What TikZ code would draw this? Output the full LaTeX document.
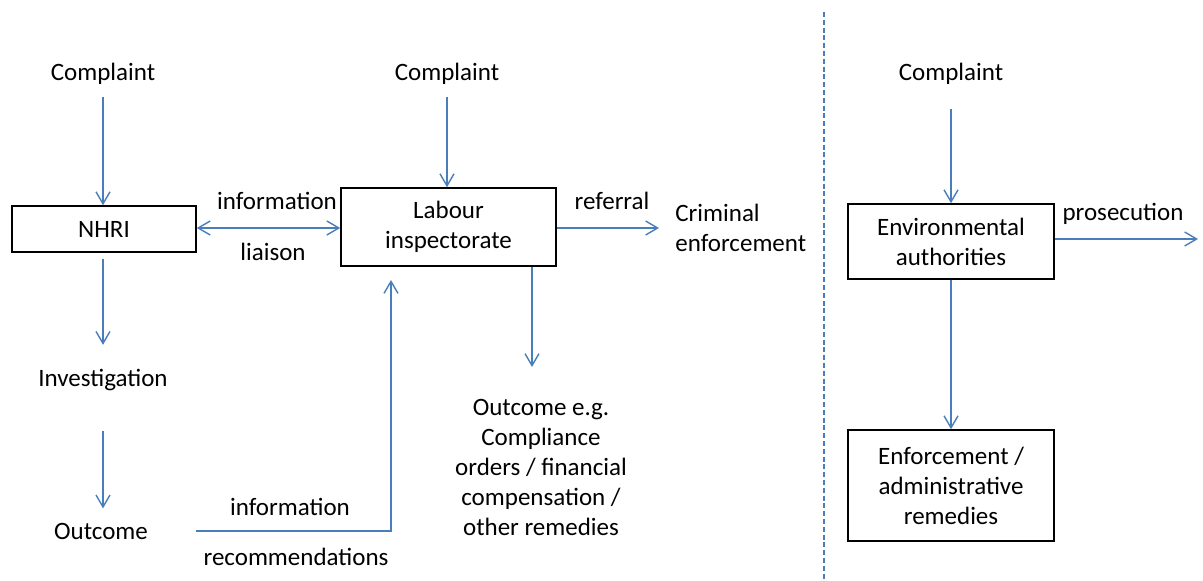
\documentclass[tikz,border=0pt]{standalone}
\usepackage{fontspec}
\setmainfont{Carlito}
\usetikzlibrary{arrows.meta}
\definecolor{flowblue}{RGB}{74,126,187}

\begin{document}
\begin{tikzpicture}[x=0.5pt,y=-0.5pt,
    every node/.style={font=\fontsize{12.5}{15}\selectfont, inner sep=0pt, align=center},
    box/.style={draw=black, line width=0.8pt},
    flow/.style={draw=flowblue, line width=0.7pt, -{Straight Barb[length=6pt,width=7pt]}},
    split/.style={draw=flowblue, line width=0.65pt, dash pattern=on 2.5pt off 1.4pt}]
\useasboundingbox (0,0) rectangle (1203,581);

% NHRI route
\node (cmp1) at (103,74) {Complaint};
\node[box, minimum width=92pt, minimum height=23pt] (nhri) at (104,229) {NHRI};
\node (inv) at (103,380) {Investigation};
\node (out) at (101,531) {Outcome};

\draw[flow, shorten <=6pt] (cmp1.south) -- (cmp1.south |- nhri.north);
\draw[flow, shorten <=3pt, shorten >=12pt] (nhri.south -| cmp1.south) -- (inv.north -| cmp1.south);
\draw[flow, shorten <=20pt, shorten >=7pt] (inv.south -| cmp1.south) -- (out.north -| cmp1.south);

% labour inspectorate
\node (cmp2) at (447,74) {Complaint};
\node[box, minimum width=107.5pt, minimum height=39pt] (lab) at (448.5,227) {Labour\\inspectorate};
\node[anchor=west, align=left] (crim) at (675,228) {Criminal\\enforcement};
\node (rem) at (541,467) {Outcome e.g.\\Compliance\\orders / financial\\compensation /\\other remedies};

\draw[flow, shorten <=6pt] (cmp2.south) -- (cmp2.south |- lab.north);
\draw[flow, {Straight Barb[length=6pt,width=7pt]}-{Straight Barb[length=6pt,width=7pt]}] (nhri.east |- 0,228) -- (lab.west |- 0,228);
\node (info1) at (277,201) {information};
\node (liaison) at (273,252) {liaison};

\draw[flow, shorten >=8pt] (lab.east |- crim) -- (crim.west);
\node (referral) at (612,201) {referral};

\coordinate (remtip) at (532,367);
\draw[flow] (lab.south -| remtip) -- (remtip);

\coordinate (labin) at (391,280);
\draw[flow, shorten <=24pt] (out.east) -| (labin);
\node (info2) at (290,507) {information};
\node (recs) at (296,557) {recommendations};

% divider
\draw[split] (824,12) -- (824,581);

% environmental authorities
\node (cmp3) at (951,74) {Complaint};
\node[box, minimum width=103pt, minimum height=37.5pt] (env) at (951,241.5) {Environmental\\authorities};
\node[box, minimum width=103pt, minimum height=55.5pt] (enf) at (951,485.5) {Enforcement /\\administrative\\remedies};

\draw[flow, shorten <=12pt] (cmp3.south) -- (cmp3.south |- env.north);
\draw[flow] (env) -- (enf);
\coordinate (prosend) at (1198,239);
\draw[flow] (env.east |- prosend) -- (prosend);
\node (prosecution) at (1123,214) {prosecution};
\end{tikzpicture}
\end{document}
